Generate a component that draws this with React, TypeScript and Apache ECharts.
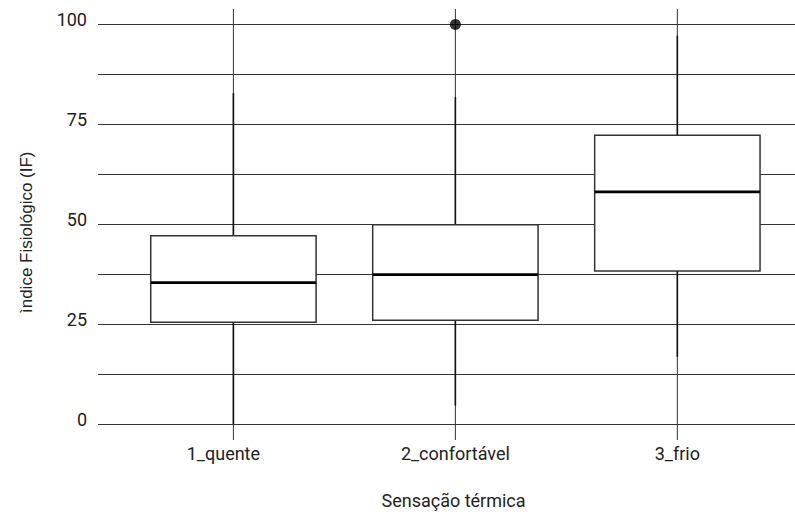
import React, { useEffect, useRef } from 'react';
import * as echarts from 'echarts';

const categories = ['1_quente', '2_confortável', '3_frio'];
const categoryPositions = [1, 2, 3];
const whiskerLow = [0, 4.6, 16.8];
const q1 = [25.5, 26.0, 38.3];
const median = [35.4, 37.4, 58.1];
const q3 = [47.1, 49.9, 72.3];
const whiskerHigh = [82.8, 81.8, 97.2];
const outliers: [number, number][] = [[2, 100]];
const yTicks = [0, 25, 50, 75, 100];

const labelFont = 'Roboto, "Noto Sans", sans-serif';

export default function App() {
  const ref = useRef<HTMLDivElement>(null);
  useEffect(() => {
    if (!ref.current) return;
    const chart = echarts.init(ref.current, null, { renderer: 'svg' });
    const boxData = categoryPositions.map((x, i) => [x, whiskerLow[i], q1[i], median[i], q3[i], whiskerHigh[i]]);
    const richBase = { fontSize: 18, color: '#222', fontFamily: labelFont };
    chart.setOption({
      animation: false,
      backgroundColor: '#ffffff',
      grid: { left: 98, right: 0, top: 24.5, bottom: 90, outerBoundsMode: 'none' },
      xAxis: {
        type: 'value',
        min: 0.39,
        max: 3.53,
        axisLine: { show: false },
        axisTick: { show: false },
        splitLine: { show: false },
        axisLabel: {
          customValues: categoryPositions,
          formatter: (v: number) => {
            const i = categoryPositions.indexOf(v);
            if (i < 0) return '';
            return i === 0 ? `{l|${categories[i]}}` : `{n|${categories[i]}}`;
          },
          margin: 20,
          fontSize: 18,
          color: '#222',
          fontFamily: labelFont,
          rich: {
            l: { ...richBase, padding: [0, 20, 0, 0] },
            n: { ...richBase },
          },
        },
        name: 'Sensação térmica',
        nameLocation: 'middle',
        nameGap: 67,
        nameTextStyle: { fontSize: 18, color: '#222', fontFamily: labelFont, padding: [0, 0, 0, 14] },
      },
      yAxis: {
        type: 'value',
        min: 0,
        max: 100,
        interval: 12.5,
        axisLine: { show: false },
        axisTick: { show: false },
        splitLine: { show: true, lineStyle: { color: '#333', width: 1 } },
        axisLabel: {
          formatter: (v: number) => (yTicks.includes(v) ? String(v) : ''),
          margin: 11,
          fontSize: 18,
          color: '#222',
          fontFamily: labelFont,
          verticalAlign: 'bottom',
          lineHeight: 10,
        },
        name: 'ìndice Fisiológico (IF)',
        nameLocation: 'middle',
        nameGap: 63,
        nameTextStyle: { fontSize: 17, color: '#222', fontFamily: '"Liberation Sans", Arial, sans-serif', padding: [0, 16, 0, 0] },
      },
      series: [
        {
          type: 'custom',
          z: 1,
          clip: false,
          silent: true,
          data: categoryPositions.map((x) => [x]),
          renderItem: (params: any, api: any) => {
            const x = api.value(0);
            const top = api.coord([x, 103.9]);
            const bottom = api.coord([x, -4]);
            return {
              type: 'line',
              shape: { x1: top[0], y1: top[1], x2: bottom[0], y2: bottom[1] },
              style: { stroke: '#333', lineWidth: 1 },
            };
          },
        },
        {
          type: 'custom',
          z: 2,
          clip: false,
          data: boxData,
          renderItem: (params: any, api: any) => {
            const x = api.value(0);
            const pLow = api.coord([x, api.value(1)]);
            const pQ1 = api.coord([x, api.value(2)]);
            const pMed = api.coord([x, api.value(3)]);
            const pQ3 = api.coord([x, api.value(4)]);
            const pHigh = api.coord([x, api.value(5)]);
            const halfW = api.size([0.745, 0])[0] / 2;
            return {
              type: 'group',
              children: [
                { type: 'line', shape: { x1: pLow[0], y1: pLow[1], x2: pQ1[0], y2: pQ1[1] }, style: { stroke: '#111', lineWidth: 1.6 } },
                { type: 'line', shape: { x1: pQ3[0], y1: pQ3[1], x2: pHigh[0], y2: pHigh[1] }, style: { stroke: '#111', lineWidth: 1.6 } },
                {
                  type: 'rect',
                  shape: { x: pQ3[0] - halfW, y: pQ3[1], width: halfW * 2, height: pQ1[1] - pQ3[1] },
                  style: { fill: '#ffffff', stroke: '#333', lineWidth: 1.5 },
                },
                { type: 'line', shape: { x1: pMed[0] - halfW, y1: pMed[1], x2: pMed[0] + halfW, y2: pMed[1] }, style: { stroke: '#000', lineWidth: 2.6 } },
              ],
            };
          },
        },
        {
          type: 'scatter',
          z: 3,
          data: outliers,
          symbol: 'circle',
          symbolSize: 11,
          itemStyle: { color: '#000' },
        },
      ],
    });
    return () => chart.dispose();
  }, []);
  return <div ref={ref} style={{ position: 'fixed', left: 0, top: 0, width: 795, height: 514 }} />;
}
